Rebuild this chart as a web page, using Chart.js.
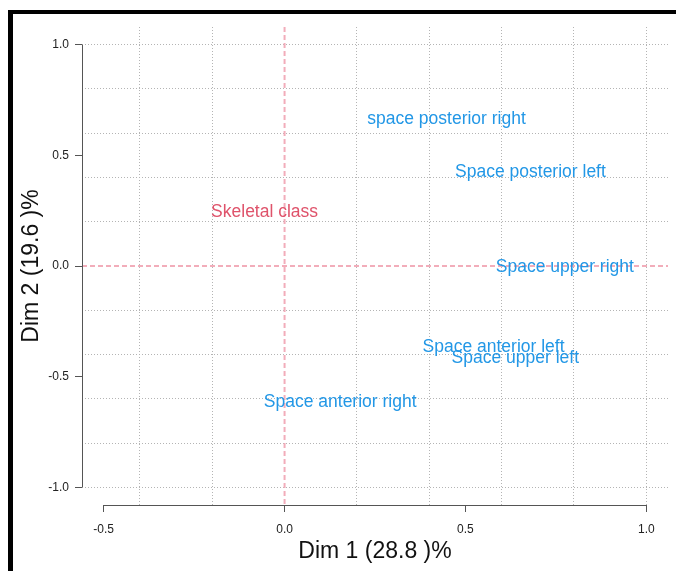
<!DOCTYPE html>
<html>
<head>
<meta charset="utf-8">
<script src="https://cdn.jsdelivr.net/npm/chart.js@4.4.0/dist/chart.umd.min.js"></script>
<style>
  html, body { margin: 0; padding: 0; background: #fff; }
  #wrap { width: 676px; height: 571px; position: relative; }
</style>
</head>
<body>
<div id="wrap"><canvas id="varChart" width="676" height="571"></canvas></div>
<script>
// Data
const varLabels = ["space posterior right", "Space posterior left", "Skeletal class", "Space upper right", "Space anterior left", "Space upper left", "Space anterior right"];
const dim1 = [0.445, 0.677, -0.058, 0.772, 0.575, 0.635, 0.151];
const dim2 = [0.666, 0.427, 0.246, 0.0, -0.363, -0.413, -0.612];
const isSupp = [false, false, true, false, false, false, false];

const xTickLabels = [-0.5, 0, 0.5, 1.0];
const yTickLabels = [-1.0, -0.5, 0, 0.5, 1.0];
const xGrid = [-0.4, -0.2, 0, 0.2, 0.4, 0.6, 0.8, 1.0];
const yGrid = [-1.0, -0.8, -0.6, -0.4, -0.2, 0, 0.2, 0.4, 0.6, 0.8, 1.0];

const BLUE = '#2297E6';
const RED = '#DF536B';
const ZERO_LINE = '#F2ADBA';
const FONT = '"Liberation Sans", Arial, sans-serif';

const near = (a, b) => Math.abs(a - b) < 1e-6;
const inList = (v, list) => list.some(t => near(t, v));
const unionTicks = (a, b) => [...new Set([...a, ...b].map(v => Math.round(v * 10) / 10))]
	.sort((p, q) => p - q)
	.map(v => ({ value: v }));
// grey dotted grid, but the zero lines are the pink abline
const gridColor = (list) => c => (inList(c.tick.value, list) && !near(c.tick.value, 0)) ? '#b4b4b4' : 'rgba(0,0,0,0)';

const rPlot = {
	id: 'rPlot',
	beforeDraw: (chart) => {
		const ctx = chart.ctx;
		ctx.save();
		// screenshot frame
		ctx.fillStyle = '#000';
		ctx.fillRect(8, 10, chart.width, 4);
		ctx.fillRect(8, 10, 5, chart.height);
		ctx.restore();
	},
	afterDatasetsDraw: (chart) => {
		const ctx = chart.ctx;
		const x = chart.scales.x;
		const y = chart.scales.y;
		const area = chart.chartArea;
		ctx.save();
		// abline(h = 0, v = 0)
		ctx.strokeStyle = ZERO_LINE;
		ctx.lineWidth = 2;
		ctx.setLineDash([5, 3]);
		const zy = y.getPixelForValue(0);
		const zx = x.getPixelForValue(0);
		ctx.beginPath();
		ctx.moveTo(area.left, zy);
		ctx.lineTo(area.right, zy);
		ctx.stroke();
		ctx.beginPath();
		ctx.moveTo(zx, area.top);
		ctx.lineTo(zx, area.bottom);
		ctx.stroke();
		// axis lines only over the tick range
		ctx.setLineDash([]);
		ctx.lineWidth = 1;
		ctx.strokeStyle = '#555';
		ctx.beginPath();
		const by = Math.round(area.bottom) + 0.5;
		ctx.moveTo(x.getPixelForValue(xTickLabels[0]), by);
		ctx.lineTo(x.getPixelForValue(xTickLabels[xTickLabels.length - 1]), by);
		const lx = Math.round(area.left) + 0.5;
		ctx.moveTo(lx, y.getPixelForValue(yTickLabels[0]));
		ctx.lineTo(lx, y.getPixelForValue(yTickLabels[yTickLabels.length - 1]));
		ctx.stroke();

		// variable labels
		const meta = chart.getDatasetMeta(0);
		ctx.font = `17.5px ${FONT}`;
		ctx.textAlign = 'center';
		ctx.textBaseline = 'middle';
		meta.data.forEach((pt, i) => {
			const p = pt.getCenterPoint();
			ctx.fillStyle = isSupp[i] ? RED : BLUE;
			ctx.fillText(varLabels[i], p.x + 1, p.y + 1);
		});
		ctx.restore();
	}
};

const ctx = document.getElementById('varChart').getContext('2d');
new Chart(ctx, {
	type: 'scatter',
	data: {
		datasets: [{
			data: dim1.map((v, i) => ({ x: v, y: dim2[i] })),
			pointRadius: 0,
			pointHoverRadius: 0,
		}]
	},
	options: {
		responsive: false,
		animation: false,
		events: [],
		layout: { padding: { top: 27, right: 8, left: 0, bottom: 0 } },
		plugins: {
			legend: { display: false },
			tooltip: { enabled: false },
		},
		scales: {
			x: {
				type: 'linear',
				min: -0.56,
				max: 1.06,
				afterBuildTicks: s => { s.ticks = unionTicks(xGrid, xTickLabels); },
				afterFit: s => { s.height = 66; },
				border: { display: false, dash: [1, 2] },
				grid: {
					color: gridColor(xGrid),
					tickColor: c => inList(c.tick.value, xTickLabels) ? '#555' : 'rgba(0,0,0,0)',
					tickLength: 7,
					lineWidth: 1,
				},
				ticks: {
					autoSkip: false,
					maxRotation: 0,
					padding: 10,
					color: '#222',
					font: { family: FONT, size: 12 },
					callback: v => inList(v, xTickLabels) ? v.toFixed(1) : '',
				},
				title: {
					display: true,
					text: 'Dim 1 (28.8 )%',
					color: '#111',
					font: { family: FONT, size: 23 },
					padding: { top: 0, bottom: 6 },
				},
			},
			y: {
				type: 'linear',
				min: -1.08,
				max: 1.08,
				afterBuildTicks: s => { s.ticks = unionTicks(yGrid, yTickLabels); },
				afterFit: s => { s.width = 82; },
				border: { display: false, dash: [1, 2] },
				grid: {
					color: gridColor(yGrid),
					tickColor: c => inList(c.tick.value, yTickLabels) ? '#555' : 'rgba(0,0,0,0)',
					tickLength: 7,
					lineWidth: 1,
				},
				ticks: {
					autoSkip: false,
					padding: 6,
					color: '#222',
					font: { family: FONT, size: 12 },
					callback: v => inList(v, yTickLabels) ? v.toFixed(1) : '',
				},
				title: {
					display: true,
					text: 'Dim 2 (19.6 )%',
					color: '#111',
					font: { family: FONT, size: 23 },
					padding: { top: 18, bottom: 0 },
				},
			}
		}
	},
	plugins: [rPlot]
});
</script>
</body>
</html>
